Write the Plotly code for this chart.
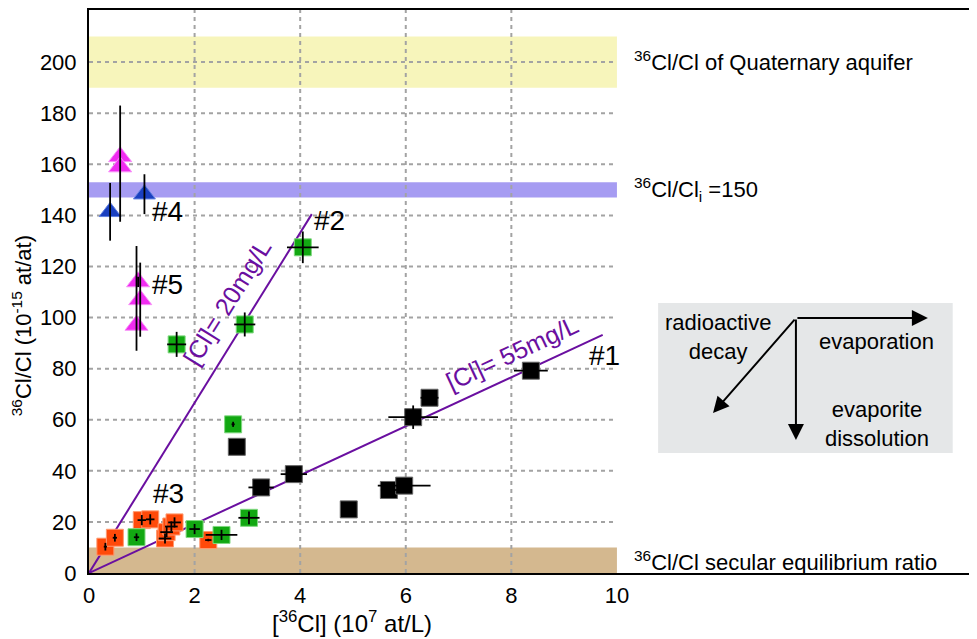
import plotly.graph_objects as go

# ---------------- data ----------------
# group #1 (black squares)
black_x = [2.80, 3.26, 3.88, 4.92, 5.68, 5.97, 6.14, 6.45, 8.37]
black_y = [49.4, 33.5, 38.7, 24.9, 32.5, 34.2, 61.0, 68.6, 79.2]
black_ex = [0.05, 0.24, 0.25, 0.05, 0.15, 0.50, 0.47, 0.17, 0.32]
black_ey = [1.0, 1.5, 1.5, 1.0, 1.0, 1.0, 4.6, 1.5, 1.5]

# group #2 (green squares)
green_x = [0.90, 1.66, 2.00, 2.51, 2.73, 2.95, 3.03, 4.05]
green_y = [14.0, 89.5, 17.2, 14.9, 58.2, 97.3, 21.6, 127.5]
green_ex = [0.05, 0.18, 0.10, 0.30, 0.03, 0.20, 0.20, 0.30]
green_ey = [1.5, 4.9, 2.0, 2.0, 1.0, 4.7, 2.5, 6.2]

# group #3 (orange squares)
orange_x = [0.31, 0.49, 1.00, 1.16, 1.44, 1.47, 1.56, 1.62, 2.26]
orange_y = [10.3, 13.8, 20.7, 21.0, 13.5, 16.0, 18.2, 19.8, 12.9]
orange_ex = [0.03, 0.04, 0.08, 0.08, 0.12, 0.12, 0.12, 0.12, 0.06]
orange_ey = [1.5, 1.5, 2.0, 2.0, 2.0, 2.0, 2.0, 2.0, 0.5]

# group #4 (blue triangles)
blue_x = [0.40, 1.05]
blue_y = [141.4, 148.3]
blue_ey = [11.3, 7.8]

# group #5 and others (magenta triangles)
mag_x = [0.59, 0.59, 0.93, 0.97, 0.90]
mag_y = [163.0, 159.0, 114.0, 107.0, 97.0]
mag_ey_up = [20.0, 0.0, 2.0, 14.5, 31.0]
mag_ey_down = [25.5, 0.0, 2.0, 14.5, 10.0]

# mixing lines
cl20_x = [0.0, 4.22]
cl20_y = [0.0, 140.5]
cl55_x = [0.0, 9.73]
cl55_y = [0.0, 93.2]

# reference bands (y ranges)
quaternary_band = [190, 210]
initial_band = [147, 153]
secular_band = [0, 10]

x_ticks = [0, 2, 4, 6, 8, 10]
y_ticks = [0, 20, 40, 60, 80, 100, 120, 140, 160, 180, 200]

# ---------------- figure ----------------
FONT = "Liberation Sans, Arial, Helvetica, sans-serif"
XMAX = 16.82
YMAX = 220.4
PURPLE = "#6a0fa0"

fig = go.Figure()

# mixing lines
fig.add_trace(go.Scatter(x=cl20_x, y=cl20_y, mode="lines",
                         line=dict(color=PURPLE, width=2), hoverinfo="skip"))
fig.add_trace(go.Scatter(x=cl55_x, y=cl55_y, mode="lines",
                         line=dict(color=PURPLE, width=2), hoverinfo="skip"))

SQ = 17
fig.add_trace(go.Scatter(x=orange_x, y=orange_y, mode="markers",
                         marker=dict(symbol="square", size=SQ, color="#ff4a0a",
                                     line=dict(color="#ff9a70", width=1))))
fig.add_trace(go.Scatter(x=green_x, y=green_y, mode="markers",
                         marker=dict(symbol="square", size=SQ, color="#12a812",
                                     line=dict(color="#80d880", width=1))))
fig.add_trace(go.Scatter(x=black_x, y=black_y, mode="markers",
                         marker=dict(symbol="square", size=SQ, color="#000000",
                                     line=dict(color="#666666", width=1))))
fig.add_trace(go.Scatter(x=mag_x, y=mag_y, mode="markers",
                         marker=dict(symbol="triangle-up", size=20, color="#f02cf0",
                                     line=dict(color="#f890f8", width=1))))
fig.add_trace(go.Scatter(x=blue_x, y=blue_y, mode="markers",
                         marker=dict(symbol="triangle-up", size=19, color="#1a40c0",
                                     line=dict(color="#6080e0", width=1))))

# error bars (drawn on top of markers)
def err_trace(x, y, ex=None, ey=None, ey_minus=None):
    kw = {}
    if ex is not None:
        kw["error_x"] = dict(type="data", array=ex, visible=True, color="black",
                             thickness=1.8, width=0)
    if ey is not None:
        d = dict(type="data", array=ey, visible=True, color="black",
                 thickness=1.8, width=0)
        if ey_minus is not None:
            d["symmetric"] = False
            d["arrayminus"] = ey_minus
        kw["error_y"] = d
    return go.Scatter(x=x, y=y, mode="markers",
                      marker=dict(size=1, color="rgba(0,0,0,0)"),
                      hoverinfo="skip", **kw)

fig.add_trace(err_trace(orange_x, orange_y, orange_ex, orange_ey))
fig.add_trace(err_trace(green_x, green_y, green_ex, green_ey))
fig.add_trace(err_trace(black_x, black_y, black_ex, black_ey))
fig.add_trace(err_trace(mag_x, mag_y, None, mag_ey_up, mag_ey_down))
fig.add_trace(err_trace(blue_x, blue_y, None, blue_ey))

shapes = []
# bands
shapes.append(dict(type="rect", xref="x", yref="y", x0=0, x1=10,
                   y0=quaternary_band[0], y1=quaternary_band[1],
                   fillcolor="#f7f5bb", line=dict(width=0), layer="below"))
shapes.append(dict(type="rect", xref="x", yref="y", x0=0, x1=10,
                   y0=initial_band[0], y1=initial_band[1],
                   fillcolor="#a69cf2", line=dict(width=0), layer="below"))
shapes.append(dict(type="rect", xref="x", yref="y", x0=0, x1=10,
                   y0=secular_band[0], y1=secular_band[1],
                   fillcolor="#d4b88f", line=dict(width=0), layer="below"))
# grid lines
GRID = dict(color="#a3a3a3", width=2, dash="4px,4px")
for xv in x_ticks[1:-1]:
    shapes.append(dict(type="line", xref="x", yref="y", x0=xv, x1=xv, y0=0, y1=YMAX,
                       line=GRID, layer="below"))
for yv in y_ticks[1:]:
    shapes.append(dict(type="line", xref="x", yref="y", x0=0, x1=10, y0=yv, y1=yv,
                       line=GRID, layer="below"))
# process box
shapes.append(dict(type="rect", xref="x", yref="y", x0=10.78, x1=16.36, y0=47.0, y1=105.7,
                   fillcolor="#e5e7e8", line=dict(width=0), layer="below"))

annotations = []
def txt(x, y, t, size=22, color="black", angle=0, xanchor="center", yanchor="middle",
        xref="x", yref="y"):
    annotations.append(dict(x=x, y=y, xref=xref, yref=yref, text=t, showarrow=False,
                            font=dict(family=FONT, size=size, color=color),
                            textangle=angle, xanchor=xanchor, yanchor=yanchor, align="center"))

txt(10.28, 200.3, "<sup>36</sup>Cl/Cl of Quaternary aquifer", xanchor="left")
txt(10.28, 150.0, "<sup>36</sup>Cl/Cl<sub>i</sub> =150", xanchor="left")
txt(10.28, 4.7, "<sup>36</sup>Cl/Cl secular equilibrium ratio", xanchor="left")

txt(9.77, 85.0, "#1", size=28)
txt(4.55, 138.0, "#2", size=28)
txt(1.50, 31.0, "#3", size=28)
txt(1.48, 141.7, "#4", size=28)
txt(1.48, 113.0, "#5", size=28)

txt(2.62, 106.0, "[Cl]= 20mg/L", size=25, color=PURPLE, angle=-58)
txt(8.02, 86.0, "[Cl]= 55mg/L", size=25, color=PURPLE, angle=-25)

txt(11.91, 92.2, "radioactive<br>decay", size=22)
txt(14.92, 90.5, "evaporation", size=22)
txt(14.92, 58.5, "evaporite<br>dissolution", size=22)

# axis titles (paper coordinates, outside plot area)
txt(-0.0755, 0.44, "<sup>36</sup>Cl/Cl (10<sup>-15</sup> at/at)", size=22, angle=-90,
    xref="paper", yref="paper")
txt(0.296, -0.087, "[<sup>36</sup>Cl] (10<sup>7</sup> at/L)", size=24,
    xref="paper", yref="paper")

# arrows
ox, oy = 13.39, 99.8
for tx, ty in [(15.89, 99.8), (13.39, 52.1), (11.82, 62.6)]:
    annotations.append(dict(x=tx, y=ty, ax=ox, ay=oy, xref="x", yref="y",
                            axref="x", ayref="y", text="", showarrow=True,
                            arrowhead=2, arrowsize=1.6, arrowwidth=2, arrowcolor="black",
                            standoff=0, startstandoff=0))

# The page body has an 8px margin, so the figure is sized to fit the 977x639 window
fig.update_layout(
    width=969, height=631,
    margin=dict(l=81, r=0, t=2, b=66, autoexpand=False),
    paper_bgcolor="white", plot_bgcolor="white",
    showlegend=False,
    font=dict(family=FONT, size=22, color="black"),
    shapes=shapes, annotations=annotations,
    xaxis=dict(range=[0, XMAX], tickvals=x_ticks, ticktext=[str(v) for v in x_ticks],
               showgrid=False, zeroline=False, showline=True, linecolor="black",
               linewidth=2, mirror=True, ticks="", ticklabelstandoff=2,
               automargin=False, tickfont=dict(size=22)),
    yaxis=dict(range=[0, YMAX], tickvals=y_ticks, ticktext=[str(v) for v in y_ticks],
               showgrid=False, zeroline=False, showline=True, linecolor="black",
               linewidth=2, ticks="", ticklabelstandoff=6,
               automargin=False, tickfont=dict(size=22)),
)

fig.write_html("out.html")
